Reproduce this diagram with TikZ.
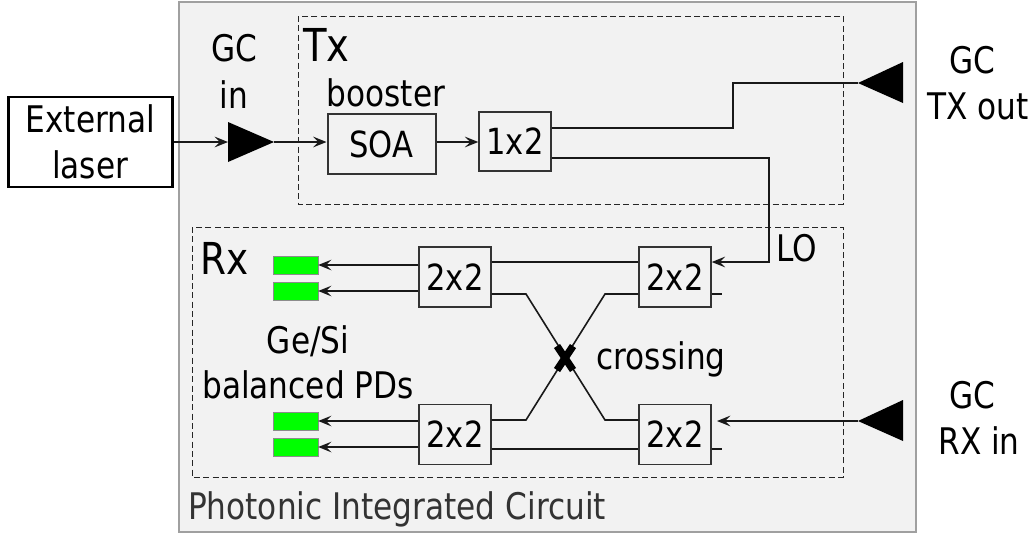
\documentclass[tikz,border=0pt]{standalone}
\usepackage{fontspec}
\setmainfont{DejaVu Sans}[FakeStretch=0.85]
\usetikzlibrary{arrows.meta}
\definecolor{picfill}{HTML}{F2F2F2}
\definecolor{picedge}{HTML}{A0A0A0}
\definecolor{pdgreen}{HTML}{00FF00}
\tikzset{
  x=0.75pt,y=-0.75pt,
  wire/.style={draw=black!90,line width=1.2pt,line join=miter},
  arr/.style={wire,-{Stealth[length=10pt,width=8pt,inset=4pt]}},
  box/.style={draw=black!80,line width=1.1pt,fill=none,inner sep=0pt,text=black,font=\fontsize{27}{27}\selectfont},
  dashbox/.style={draw=black!85,line width=0.75pt,dash pattern=on 4.5pt off 2.5pt},
  lbl/.style={inner sep=0pt,text=black,font=\fontsize{27.5}{27.5}\selectfont},
  pd/.style={fill=pdgreen,draw=black!45,line width=0.5pt,inner sep=0pt,minimum width=33.5pt,minimum height=13.3pt},
  gc/.style={fill=black,draw=none},
}
\begin{document}
\begin{tikzpicture}
\useasboundingbox (0,0) rectangle (1035,533);
\draw[picedge,fill=picfill,line width=2pt] (179,2) rectangle (916,532);
\draw[dashbox] (298,16) rectangle (843,204);
\draw[dashbox] (192,227) rectangle (843,477);
% boxes
\node[box,draw=black,line width=1.7pt,minimum width=123pt,minimum height=68pt,fill=white] (laser) at (90.5,142) {};
\node[box,line width=1.5pt,minimum width=81pt,minimum height=45pt] (soa) at (381.5,144) {SOA};
\node[box,minimum width=54pt,minimum height=44.5pt] (split) at (515,141.5) {1x2};
\node[box,minimum width=54pt,minimum height=45pt] (tl) at (455,277) {2x2};
\node[box,minimum width=54pt,minimum height=45pt] (tr) at (675,277) {2x2};
\node[box,minimum width=54pt,minimum height=45pt] (bl) at (455,434.5) {2x2};
\node[box,minimum width=54pt,minimum height=45pt] (br) at (675,434.5) {2x2};
% photodiodes
\node[pd] (pd1) at (295.5,265) {};
\node[pd] (pd2) at (295.5,291) {};
\node[pd] (pd3) at (295.5,421.5) {};
\node[pd] (pd4) at (295.5,447) {};
% grating couplers
\coordinate (gcinL) at (228,142);
\coordinate (gcinR) at (274,142);
\coordinate (gctxT) at (858,83);
\coordinate (gcrxT) at (858,421);
\fill[gc] (228,122) -- (gcinR) -- (228,162) -- cycle;
\fill[gc] (903,62) -- (gctxT) -- (903,103) -- cycle;
\fill[gc] (903,400) -- (gcrxT) -- (903,441) -- cycle;
% free stub ends and crossing
\coordinate (s1) at (722,294);
\coordinate (s2) at (722,449);
\coordinate (xc) at (565,358);
% connectors
\draw[arr] (laser.east |- 0,142) -- (gcinL);
\draw[arr] (gcinR) -- (soa.west |- 0,142);
\draw[arr] (soa.east |- 0,142) -- (split.west |- 0,142);
\draw[wire] (split.east |- 0,128) -- (733,128) -- (733,83) -- (gctxT);
\draw[arr] (split.east |- 0,158) -- (769,158) -- (769,262) -- (tr.east |- 0,262);
\draw[wire] (tl.east |- 0,262) -- (tr.west |- 0,262);
\draw[wire] (bl.east |- 0,449) -- (br.west |- 0,449);
\draw[wire] (tl.east |- 0,294) -- (526,294) -- (605,420) -- (br.west |- 0,420);
\draw[wire] (tr.west |- 0,294) -- (605,294) -- (526,420) -- (bl.east |- 0,420);
\draw[wire] (tr.east |- 0,294) -- (s1);
\draw[wire] (br.east |- 0,449) -- (s2);
\draw[arr] (gcrxT) -- (717,421);
\draw[arr] (tl.west |- 0,265) -- (pd1.east |- 0,265);
\draw[arr] (tl.west |- 0,291) -- (pd2.east |- 0,291);
\draw[arr] (bl.west |- 0,421) -- (pd3.east |- 0,421);
\draw[arr] (bl.west |- 0,447) -- (pd4.east |- 0,447);
\draw[line width=5.5pt] ([shift={(-8,-12)}]xc) -- ([shift={(8,12)}]xc);
\draw[line width=5.5pt] ([shift={(8,-12)}]xc) -- ([shift={(-8,12)}]xc);
% labels
\node[lbl] (tExt) at (90.5,119) {External};
\node[lbl] (tLas) at (90,165) {laser};
\node[lbl] (tGC1) at (234,48.5) {GC};
\node[lbl] (tIn) at (234,95) {in};
\node[lbl,font=\fontsize{34}{34}\selectfont] (tTx) at (326.5,45) {Tx};
\node[lbl] (tBoo) at (386,92.5) {booster};
\node[lbl] (tGC2) at (972.5,60) {GC};
\node[lbl] (tOut) at (978,106) {TX out};
\node[lbl] (tGC3) at (972.5,395) {GC};
\node[lbl] (tRxi) at (979,441) {RX in};
\node[lbl] (tLO) at (797,248.5) {LO};
\node[lbl,font=\fontsize{33}{33}\selectfont] (tRx) at (224.5,258.5) {Rx};
\node[lbl] (tGe) at (308,341) {Ge/Si};
\node[lbl] (tBal) at (308,385) {balanced PDs};
\node[lbl] (tCro) at (661,359) {crossing};
\node[lbl,text=black!80] (tPic) at (397,509) {Photonic Integrated Circuit};
\end{tikzpicture}
\end{document}
